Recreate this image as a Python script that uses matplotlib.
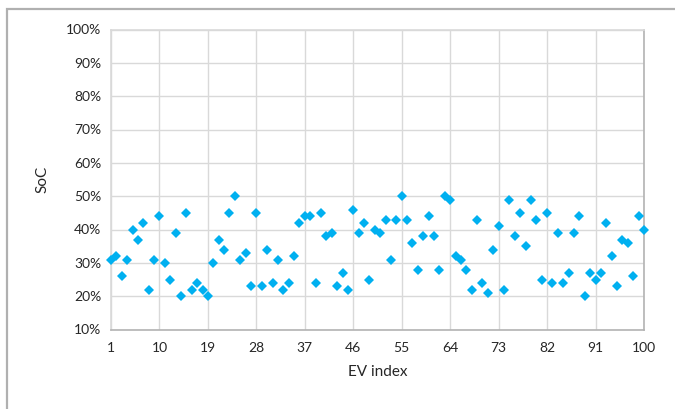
import numpy as np
import matplotlib
matplotlib.use('Agg')
import matplotlib.pyplot as plt
from matplotlib.patches import Rectangle

plt.rcParams['font.family'] = ['Lato', 'DejaVu Sans']

# --- Dati: SoC (%) per ogni EV ---
ev_index = np.arange(1, 101)
soc = [31, 32, 26, 31, 40, 37, 42, 22, 31, 44,
       30, 25, 39, 20, 45, 22, 24, 22, 20, 30,
       37, 34, 45, 50, 31, 33, 23, 45, 23, 34,
       24, 31, 22, 24, 32, 42, 44, 44, 24, 45,
       38, 39, 23, 27, 22, 46, 39, 42, 25, 40,
       39, 43, 31, 43, 50, 43, 36, 28, 38, 44,
       38, 28, 50, 49, 32, 31, 28, 22, 43, 24,
       21, 34, 41, 22, 49, 38, 45, 35, 49, 43,
       25, 45, 24, 39, 24, 27, 39, 44, 20, 27,
       25, 27, 42, 32, 23, 37, 36, 26, 44, 40]
soc = np.array(soc) / 100.0

xticks = np.arange(1, 101, 9)
yticks = np.arange(0.1, 1.01, 0.1)

fig = plt.figure(figsize=(6.75, 4.09), dpi=100)
ax = fig.add_axes([111/675, 1 - 329.5/409, (644 - 111)/675, (329.5 - 29.5)/409])

# cornice esterna del grafico (stile Excel)
fig.patches.append(Rectangle((7/675, -0.05), 1.2, (409 - 9)/409 + 0.05,
                             transform=fig.transFigure, fill=False,
                             edgecolor='#b0b0b0', linewidth=1.6))

ax.plot(ev_index, soc, linestyle='none', marker='D', markersize=5.4,
        color='#00B0F0', markeredgewidth=0, zorder=3, clip_on=False)

ax.set_xlim(1, 100)
ax.set_ylim(0.1, 1.0)
ax.set_xticks(xticks)
ax.set_yticks(yticks)
ax.set_yticklabels([f'{int(round(v*100))}%' for v in yticks])
ax.tick_params(length=0, labelsize=10, colors='#262626', pad=7)
ax.tick_params(axis='x', pad=9)
ax.grid(True, color='#d9d9d9', linewidth=1.0, zorder=0)
ax.set_axisbelow(True)

for s in ['left', 'top']:
    ax.spines[s].set_color('#d9d9d9')
for s in ['right', 'bottom']:
    ax.spines[s].set_color('#b3b3b3')
for s in ax.spines.values():
    s.set_linewidth(1.2)

ax.set_xlabel('EV index', fontsize=11, color='#262626', labelpad=8)
ax.set_ylabel('SoC', fontsize=11, color='#262626', labelpad=12)

plt.savefig('out.png', dpi=100)
